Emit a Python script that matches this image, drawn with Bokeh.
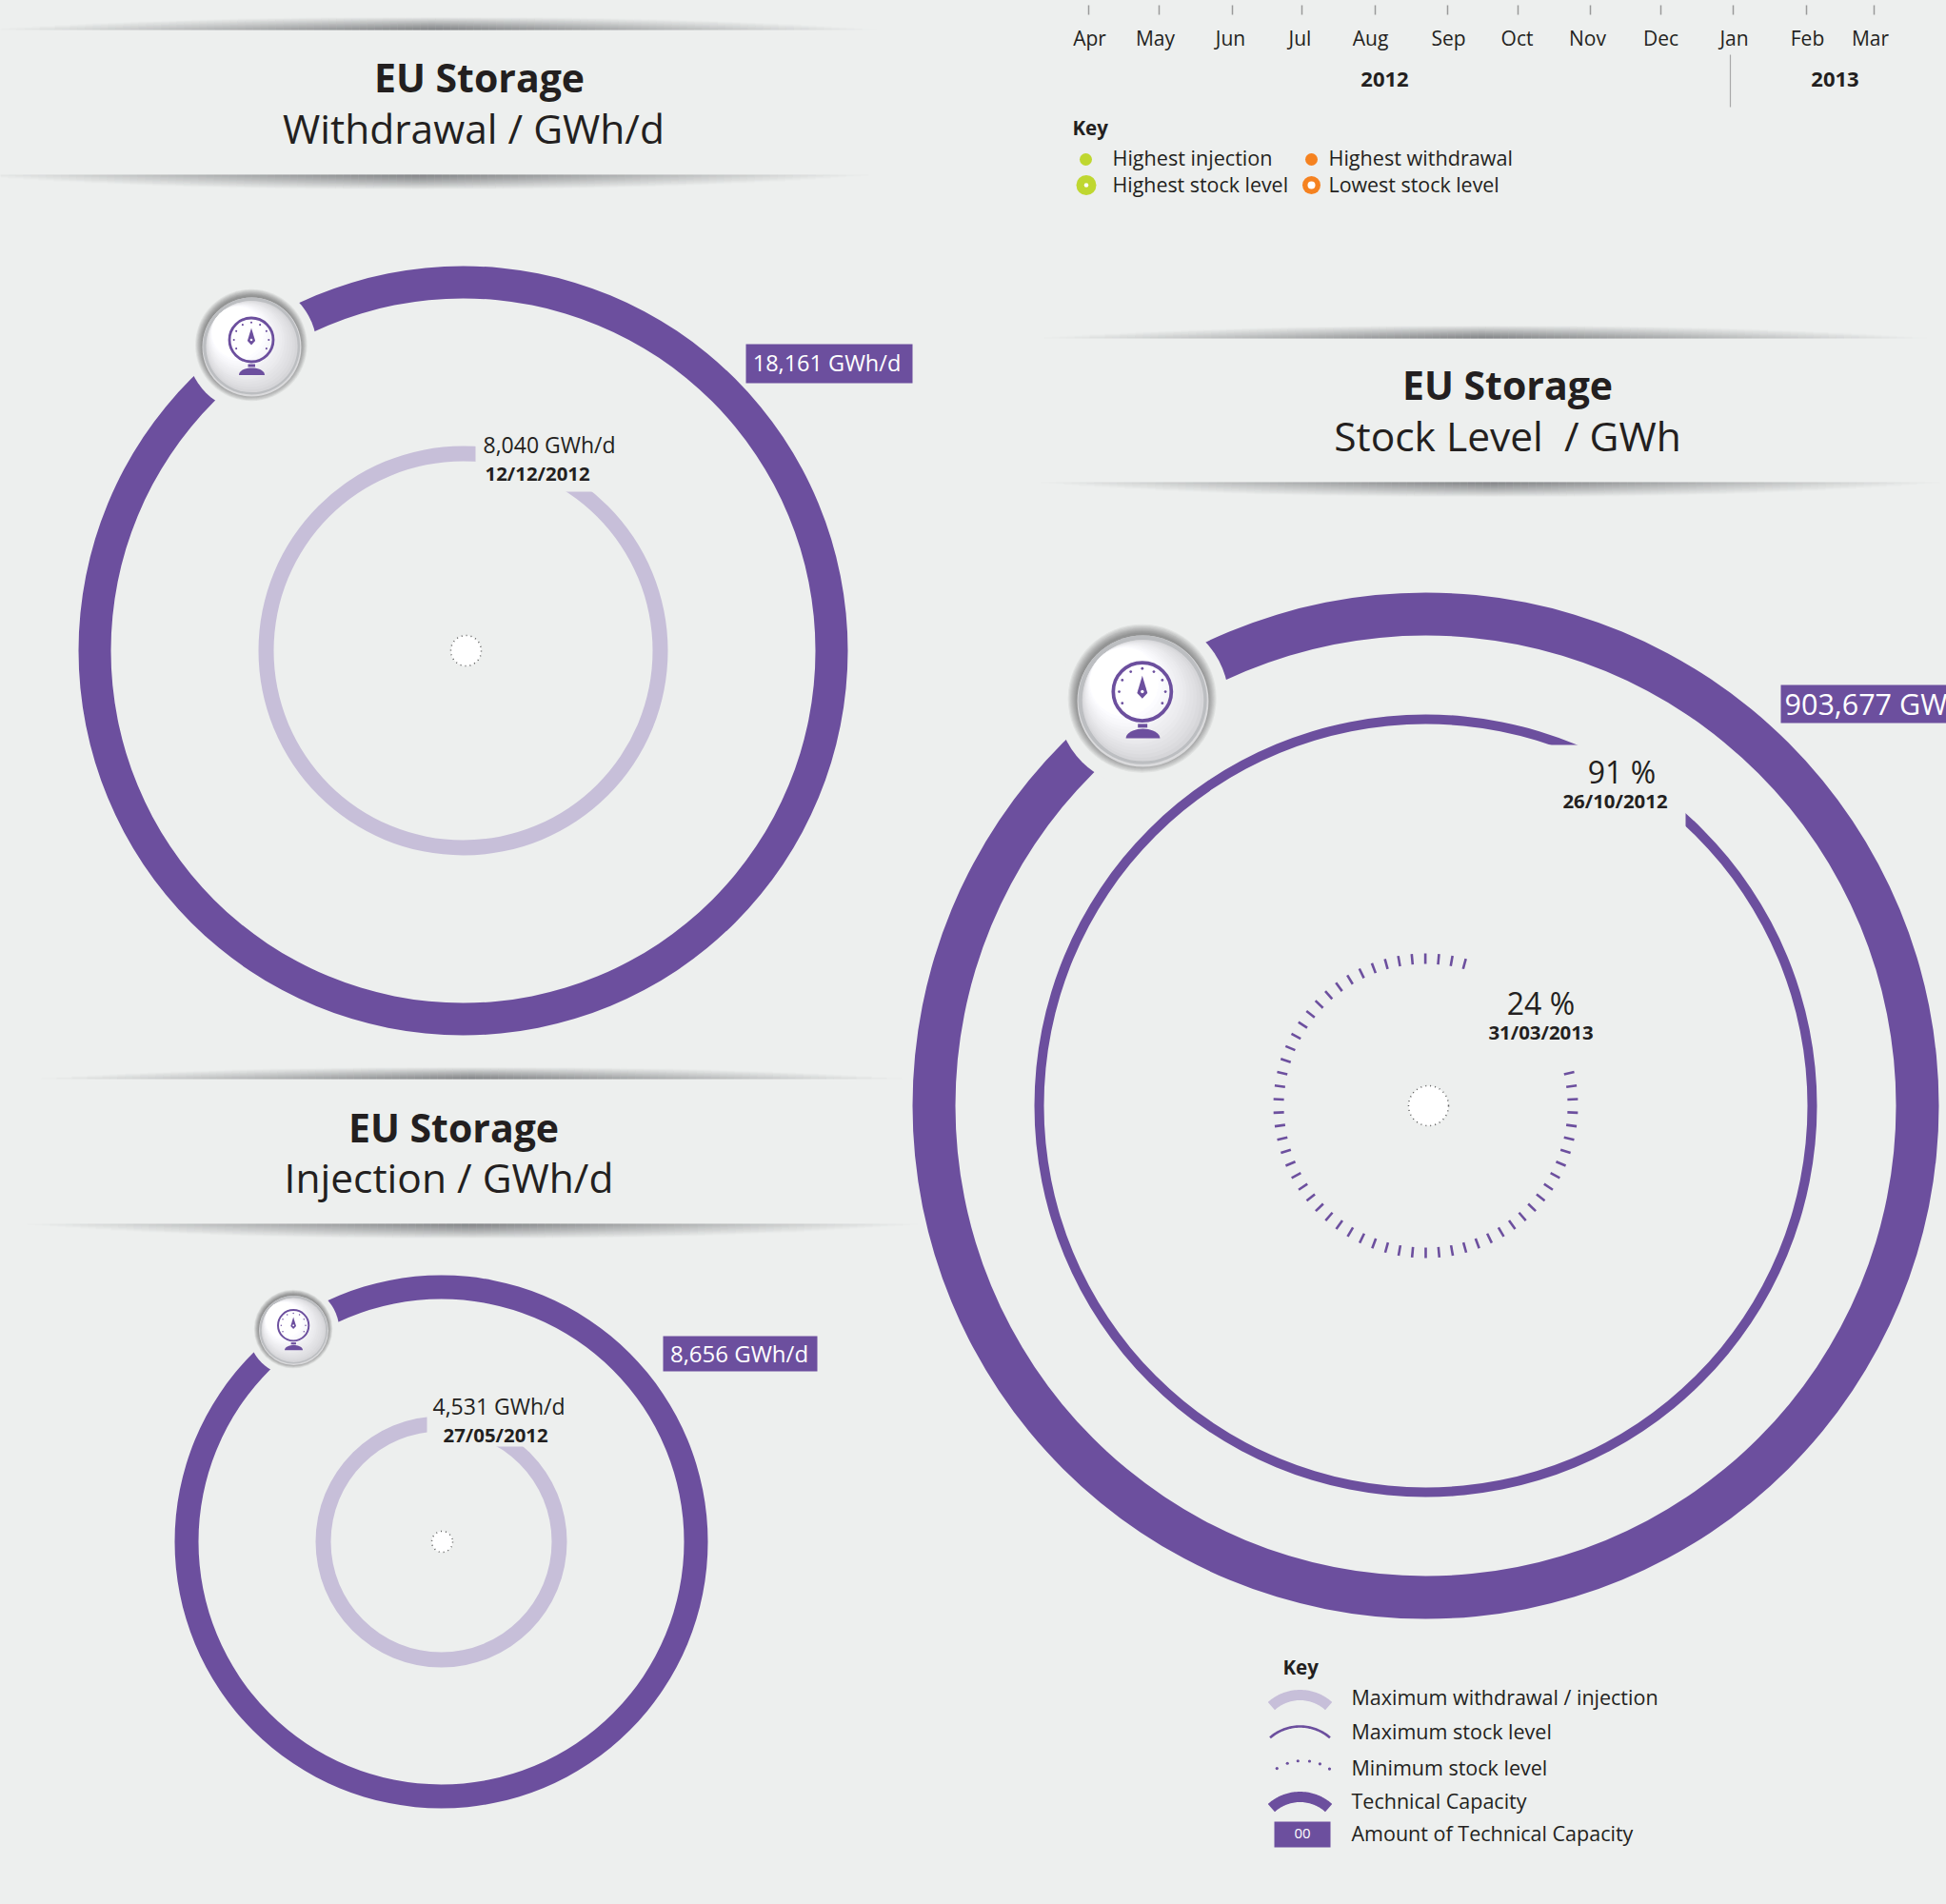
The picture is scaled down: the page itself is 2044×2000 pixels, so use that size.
import numpy as np
from bokeh.plotting import figure
from bokeh.models import Range1d
from bokeh.core.properties import value
from bokeh.embed import file_html
from bokeh.resources import INLINE

# ---- chart content -------------------------------------------------------
panel_names = ["Withdrawal / GWh/d", "Injection / GWh/d", "Stock Level\u00a0\u00a0/ GWh"]
capacity_labels = ["18,161 GWh/d", "8,656 GWh/d", "903,677 GWh"]
peak_labels = ["8,040 GWh/d", "4,531 GWh/d", "91 %"]
peak_dates = ["12/12/2012", "27/05/2012", "26/10/2012"]
min_label = "24 %"
min_date = "31/03/2013"
months = ["Apr", "May", "Jun", "Jul", "Aug", "Sep", "Oct", "Nov", "Dec", "Jan", "Feb", "Mar"]
years = ["2012", "2013"]
key_top = ["Highest injection", "Highest withdrawal", "Highest stock level", "Lowest stock level"]
key_bottom = ["Maximum withdrawal / injection", "Maximum stock level", "Minimum stock level",
              "Technical Capacity", "Amount of Technical Capacity"]

# ---- layout and style -----------------------------------------------------
BG = "#edefee"
PURPLE = "#6c4f9e"
LIGHT = "#c7bfd9"
INK = "#231f20"
GREEN = "#bfd730"
ORANGE = "#f58220"
FONT = "Open Sans"

p = figure(width=2044, height=2000, x_range=Range1d(0, 2044), y_range=Range1d(2000, 0),
           x_axis_type=None, y_axis_type=None, toolbar_location=None, output_backend="svg",
           min_border=0, background_fill_color=BG, border_fill_color=BG, outline_line_color=None)
p.grid.visible = False


def label(x, y, txt, size, bold=False, color=INK, align="left"):
    p.text([x], [y - 2], text=[txt], text_font=value(FONT), text_font_size=value(f"{size}px"),
           text_font_style="bold" if bold else "normal", text_color=color,
           text_align=align, text_baseline="middle")


def ring(cx, cy, outer, inner, color):
    p.annulus([cx], [cy], inner_radius=inner, outer_radius=outer, fill_color=color, line_color=None)


def shadow(cx, half, edge, direction, depth):
    # soft lens-shaped rule: strongest at the straight edge in the middle
    left, right, top, bottom, alpha = [], [], [], [], []
    for xs in range(int(cx - half), int(cx + half), 8):
        d = abs(xs + 4 - cx) / half
        h = depth * (1 - d ** 2.5)
        strength = 0.82 * (1 - d) ** 1.1
        for j in range(int(depth)):
            if j >= h:
                break
            y0 = edge + direction * j
            y1 = edge + direction * (j + 1)
            left.append(xs); right.append(xs + 8)
            top.append(min(y0, y1)); bottom.append(max(y0, y1))
            alpha.append(strength * (1 - j / max(h, 1)) ** 1.0)
    p.quad(left=left, right=right, top=top, bottom=bottom, fill_color="#4c4e52",
           fill_alpha=alpha, line_color=None)


def gauge(cx, cy, R):
    s = R / 52
    p.circle([cx], [cy], radius=R * 1.31, fill_color=BG, line_color=None)
    # soft shadow, reaching further up and to the left than down
    for k in np.linspace(1.13, 1.0, 9):
        p.circle([cx - 0.012 * R], [cy - 0.04 * R], radius=R * k, fill_color="#3c3c3c",
                 fill_alpha=0.07, line_color=None)
    # rim: pale below, darker above
    p.circle([cx], [cy], radius=R, fill_color="#dadadc", line_color=None)
    p.circle([cx - 0.006 * R], [cy - 0.02 * R], radius=R * 0.98, fill_color="#bcbec1", line_color=None)
    # face: shaded from lower right to white at upper left
    n = 14
    for i in range(n):
        t = i / (n - 1)
        r = R * (0.925 - 0.40 * t)
        off = (R * 0.925 - r) * 0.7071
        c = int(214 + 41 * t ** 0.8)
        p.circle([cx - off], [cy - R * 0.01 - off], radius=r,
                 fill_color=f"#{c:02x}{c:02x}{min(c + 3, 255):02x}", line_color=None)
    iy = cy - 7.5 * s
    p.circle([cx - 0.5 * s], [iy], radius=23 * s, fill_color=None, line_color=PURPLE, line_width=2.8 * s)
    ang = np.radians(np.arange(-120, 121, 30))
    p.scatter(cx - 0.5 * s + 18.3 * s * np.sin(ang), iy - 18.3 * s * np.cos(ang), size=2.1 * s,
              marker="circle", fill_color=PURPLE, line_color=None)
    p.patch(cx - 0.5 * s + s * np.array([0, 4.1, 0, -4.1]), iy + s * np.array([-12.6, 1, 5.5, 1]),
            fill_color=PURPLE, line_color=None)
    p.circle([cx - 0.5 * s], [iy], radius=1.3 * s, fill_color="white", line_color=None)
    p.quad(left=[cx - 4 * s], right=[cx + 3.5 * s], top=[cy + 18 * s], bottom=[cy + 21 * s],
           fill_color=PURPLE, line_color=None)
    a = np.radians(np.linspace(-90, 90, 21))
    p.patch(cx + 13.5 * s * np.sin(a), cy + 29.4 * s - 7.5 * s * np.cos(a),
            fill_color=PURPLE, line_color=None)


def arc(cx, cy, r, half_angle, color, width):
    a = np.radians(np.linspace(-half_angle, half_angle, 41))
    p.line(cx + r * np.sin(a), cy - r * np.cos(a), line_color=color, line_width=width, line_cap="butt")


def cover(x0, x1, y0, y1):
    p.quad(left=[x0], right=[x1], top=[y0], bottom=[y1], fill_color=BG, line_color=None)


def tag(x0, x1, y0, y1, txt, size, tx, align="center"):
    p.quad(left=[x0], right=[x1], top=[y0], bottom=[y1], fill_color=PURPLE, line_color=None)
    label(tx, (y0 + y1) / 2 + 1, txt, size, color="white", align=align)


def centre_dot(cx, cy, r):
    p.circle([cx], [cy], radius=r, fill_color="white", line_color="#5f5f5f", line_width=1.5, line_dash="1 4")


# ---- rules above and below the titles ---------------------------------------
for cx, half, edge, direction, depth in [
    (455, 470, 31, -1, 13), (440, 480, 183, 1, 15),
    (495, 460, 1133, -1, 12), (495, 475, 1285, 1, 15),
    (1558, 470, 355, -1, 13), (1565, 480, 506, 1, 15),
]:
    shadow(cx, half, edge, direction, depth)

# ---- titles ------------------------------------------------------------------
for (tx, ty), (sx, sy), name in zip([(503, 82), (476, 1185), (1583, 405)],
                                    [(497, 136), (471, 1238), (1583, 459)], panel_names):
    label(tx, ty, "EU Storage", 41, bold=True, align="center")
    label(sx, sy, name, 42.5, align="center")

# ---- withdrawal ------------------------------------------------------------
ring(486, 683, 404, 370, PURPLE)
ring(486, 683, 215, 199, LIGHT)
cover(499, 640, 455, 516)
centre_dot(489, 683, 16)
gauge(264, 364, 52)
tag(783, 958, 361, 402, capacity_labels[0], 23.5, 868)
label(507, 468, peak_labels[0], 23)
label(509, 498, peak_dates[0], 20.4, bold=True)

# ---- injection ------------------------------------------------------------
ring(463, 1619, 280, 255, PURPLE)
ring(463, 1619, 132, 116, LIGHT)
cover(448, 570, 1480, 1519)
centre_dot(464, 1619, 11)
gauge(308, 1397, 36.5)
tag(696, 858, 1403, 1440, capacity_labels[1], 24, 776)
label(454, 1478, peak_labels[1], 23)
label(465, 1508, peak_dates[1], 20.4, bold=True)

# ---- stock level ------------------------------------------------------------
ring(1497, 1161, 539, 494, PURPLE)
ring(1497, 1161, 411, 401, PURPLE)
cover(1600, 1770, 782, 900)
theta = np.radians(180 + 5.139 * np.arange(-20, 39))
p.segment(1497 + 149 * np.sin(theta), 1161 - 149 * np.cos(theta),
          1497 + 160 * np.sin(theta), 1161 - 160 * np.cos(theta),
          line_color=PURPLE, line_width=2.6)
centre_dot(1500, 1161, 21)
gauge(1200, 736, 69)
tag(1870, 2044, 719, 759, capacity_labels[2], 30.5, 1874, align="left")
label(1703, 812, peak_labels[2], 32, align="center")
label(1696, 842, peak_dates[2], 20.4, bold=True, align="center")
label(1618, 1055, min_label, 32, align="center")
label(1618, 1085, min_date, 20.4, bold=True, align="center")

# ---- month scale ----------------------------------------------------------
tick_x = [1143, 1217, 1294, 1367, 1444, 1520, 1594, 1670, 1744, 1820, 1897, 1968]
text_x = [1144, 1213, 1292, 1365, 1439, 1521, 1593, 1667, 1744, 1821, 1898, 1964]
p.segment(tick_x, [5] * 12, tick_x, [15] * 12, line_color="#9a9a9a", line_width=1.5)
for x, m in zip(text_x, months):
    label(x, 41, m, 21, align="center")
label(1454, 85, years[0], 22, bold=True, align="center")
label(1927, 85, years[1], 22, bold=True, align="center")
p.segment([1817], [57], [1817], [112], line_color="#a8a8a8", line_width=1.2)

# ---- first key ------------------------------------------------------------
label(1126, 135, "Key", 20.5, bold=True)
p.circle([1140], [167], radius=6.5, fill_color=GREEN, line_color=None)
p.circle([1377], [167], radius=6.5, fill_color=ORANGE, line_color=None)
p.circle([1140.5], [194], radius=10.5, fill_color=GREEN, line_color=None)
p.circle([1140.5], [194], radius=2.3, fill_color="white", line_color=None)
p.circle([1377], [194], radius=9.5, fill_color=ORANGE, line_color=None)
p.circle([1377], [194], radius=4, fill_color="white", line_color=None)
label(1168, 167, key_top[0], 21.6)
label(1395, 167, key_top[1], 21.6)
label(1168, 194.5, key_top[2], 21.4)
label(1395, 194.5, key_top[3], 21.4)

# ---- second key ------------------------------------------------------------
label(1347, 1752, "Key", 20.5, bold=True)
arc(1365, 1825, 45, 42, LIGHT, 11)
arc(1365, 1861, 48, 41, PURPLE, 2.6)
dot_a = np.radians(np.array([-33, -19, -6, 8, 21, 34]))
p.scatter(1368 + 50 * np.sin(dot_a), 1899 - 50 * np.cos(dot_a), size=3.2, marker="circle",
          fill_color=PURPLE, line_color=None)
arc(1365, 1932, 45, 42, PURPLE, 11)
p.quad(left=[1338], right=[1397], top=[1913], bottom=[1940], fill_color=PURPLE, line_color=None)
label(1367.5, 1927, "00", 15, color="white", align="center")
for y, txt in zip([1784, 1820, 1858, 1893, 1927], key_bottom):
    label(1419, y, txt, 21.5)

html = file_html(p, INLINE).replace("<head>", f"<head><style>html,body{{background:{BG}}}</style>", 1)
open("out.html", "w").write(html)
